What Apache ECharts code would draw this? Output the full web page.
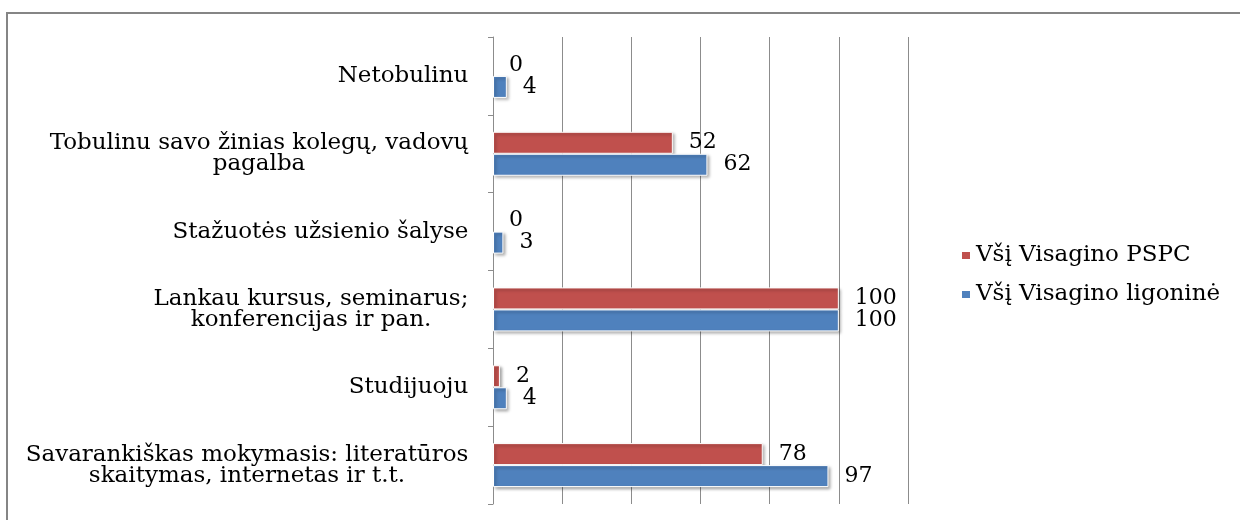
<!DOCTYPE html>
<html>
<head>
<meta charset="utf-8">
<script src="https://cdn.jsdelivr.net/npm/echarts@6/dist/echarts.min.js"></script>
<style>
  html, body { margin: 0; padding: 0; background: #fff; }
  #chart { width: 1240px; height: 520px; }
</style>
</head>
<body>
<div id="chart"></div>
<script>
// Categories listed top to bottom
const categories = [
  'Netobulinu',
  'Tobulinu savo žinias kolegų, vadovų\npagalba',
  'Stažuotės užsienio šalyse',
  'Lankau kursus, seminarus;\nkonferencijas ir pan.',
  'Studijuoju',
  'Savarankiškas mokymasis: literatūros\nskaitymas, internetas ir t.t.'
];
const seriesNames = ['Všį Visagino PSPC', 'Všį Visagino ligoninė'];
const pspcValues = [0, 52, 0, 100, 2, 78];
const ligonineValues = [4, 62, 3, 100, 4, 97];
const axisMax = 120;
const axisStep = 20;

const FONT = '"DejaVu Serif", "Liberation Serif", serif';
const FS = 23;
const VALUE_FS = 22;

// Each category label is right-aligned as a block, its lines centred inside it
const measure = document.createElement('canvas').getContext('2d');
measure.font = FS + 'px ' + FONT;
const labelRich = {};
categories.forEach((c, i) => {
  const w = Math.max(...c.split('\n').map(l => measure.measureText(l).width));
  labelRich['c' + i] = {
    width: Math.ceil(w) + 1, align: 'center',
    fontSize: FS, fontFamily: FONT, color: '#000', lineHeight: 21
  };
});

const barStyle = color => ({
  color: color,
  borderColor: '#fff',
  borderWidth: 1,
  shadowColor: 'rgba(0,0,0,0.35)',
  shadowBlur: 3,
  shadowOffsetX: 2,
  shadowOffsetY: 2
});

// zero-length bars get no border or shadow, only their value label
const barData = values => values.map(v => v === 0
  ? { value: v, itemStyle: { borderWidth: 0, shadowBlur: 0, shadowColor: 'rgba(0,0,0,0)' } }
  : v);

const valueLabel = {
  show: true,
  position: 'right',
  distance: 16,
  color: '#000',
  fontSize: VALUE_FS,
  fontFamily: FONT
};

const chart = echarts.init(document.getElementById('chart'));
chart.setOption({
  animation: false,
  backgroundColor: '#fff',
  graphic: [{
    type: 'rect',
    shape: { x: 7, y: 13, width: 1260, height: 540 },
    style: { fill: 'none', stroke: '#858585', lineWidth: 2 },
    silent: true,
    z: -1
  }],
  grid: { left: 493, right: 332, top: 37, bottom: 16 },
  legend: {
    orient: 'vertical',
    left: 955,
    top: 239,
    itemWidth: 10,
    itemHeight: 9,
    itemGap: 16,
    icon: 'rect',
    textStyle: { fontSize: FS, fontFamily: FONT, color: '#000' },
    data: seriesNames
  },
  xAxis: {
    type: 'value',
    min: 0,
    max: axisMax,
    interval: axisStep,
    axisLabel: { show: false },
    axisLine: { show: false },
    axisTick: { show: false },
    splitLine: { show: true, lineStyle: { color: '#8c8c8c', width: 1 } }
  },
  yAxis: {
    type: 'category',
    inverse: true,
    data: categories,
    axisLine: { show: true, lineStyle: { color: '#8c8c8c' } },
    axisTick: { show: true, length: 5, lineStyle: { color: '#8c8c8c' } },
    axisLabel: {
      margin: 24,
      formatter: (v, i) => v.split('\n').map(l => '{c' + i + '|' + l + '}').join('\n'),
      rich: labelRich
    }
  },
  series: [
    {
      name: seriesNames[0],
      type: 'bar',
      data: barData(pspcValues),
      barWidth: 22,
      barGap: '0%',
      itemStyle: barStyle('#C0504D'),
      label: valueLabel
    },
    {
      name: seriesNames[1],
      type: 'bar',
      data: barData(ligonineValues),
      barWidth: 22,
      barGap: '0%',
      itemStyle: barStyle('#4F81BD'),
      label: valueLabel
    }
  ]
});
</script>
</body>
</html>
